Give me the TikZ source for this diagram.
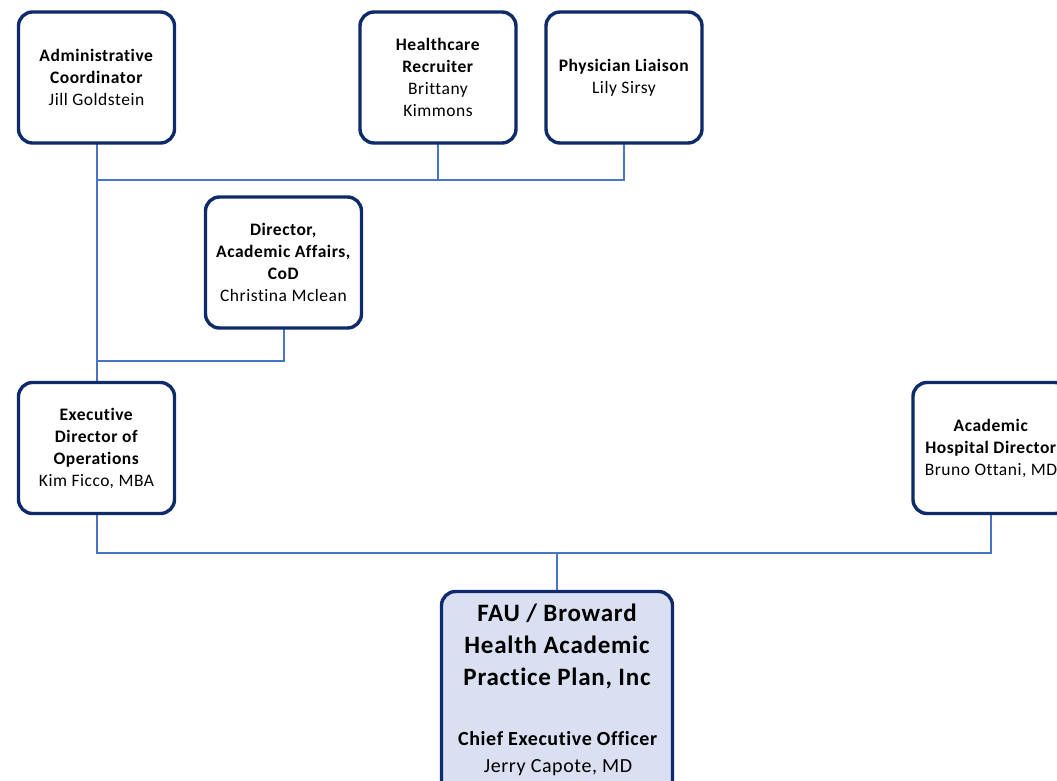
\documentclass[tikz,border=0pt]{standalone}
\usepackage{fontspec}
\setmainfont{Carlito}[Ligatures=NoCommon, LetterSpace=3]
\definecolor{boxline}{HTML}{0E2A6A}
\definecolor{conn}{HTML}{4A74C6}
\definecolor{ceofill}{HTML}{DAE0F2}
\pgfdeclarelayer{background}
\pgfsetlayers{background,main}
\tikzset{
  orgbox/.style={draw=boxline, line width=3.4pt, rounded corners=14pt, fill=white,
    minimum width=156pt, minimum height=131pt, inner sep=0pt, outer sep=0pt,
    align=center, font=\fontsize{17.5}{22}\selectfont},
  link/.style={draw=conn, line width=2pt},
  bigtxt/.style={align=center, inner sep=0pt, font=\fontsize{25}{32}\selectfont\bfseries},
  midtxt/.style={align=center, inner sep=0pt, font=\fontsize{20}{27}\selectfont},
}
\begin{document}
\begin{tikzpicture}[x=1pt,y=-1pt]
\useasboundingbox (0,0) rectangle (1057,781);
\clip (0,0) rectangle (1057,781);
\node[orgbox] (admin) at (96.5,77.5) {\textbf{Administrative}\\\textbf{Coordinator}\\Jill Goldstein};
\node[orgbox] (hr) at (438,77.5) {\textbf{Healthcare}\\\textbf{Recruiter}\\Brittany\\Kimmons};
\node[orgbox] (phys) at (624,77.5) {\textbf{Physician Liaison}\\Lily Sirsy};
\node[orgbox] (dir) at (283.5,262.5) {\textbf{Director,}\\\textbf{Academic Affairs,}\\\textbf{CoD}\\Christina Mclean};
\node[orgbox] (exec) at (96.5,448) {\textbf{Executive}\\\textbf{Director of}\\\textbf{Operations}\\Kim Ficco, MBA};
\node[orgbox] (acad) at (991,448) {\textbf{Academic}\\\textbf{Hospital Director}\\Bruno Ottani, MD};
\node[orgbox, fill=ceofill, minimum width=231pt, minimum height=215pt] (ceo) at (557,699) {};
\node[bigtxt] (ceoname) at (557,646) {FAU / Broward\\Health Academic\\Practice Plan, Inc};
\node[midtxt] (ceotitle) at (558,753.5) {\textbf{Chief Executive Officer}\\ Jerry Capote, MD};
\coordinate (bus1) at (0,180);
\coordinate (bus2) at (0,361);
\coordinate (bus3) at (0,553);
\begin{pgfonlayer}{background}
\draw[link] (admin.south) -- (exec.north);
\draw[link] (hr.south) -- (hr.south |- bus1);
\draw[link] (phys.south) -- (phys.south |- bus1) -- (admin.south |- bus1);
\draw[link] (dir.south) -- (dir.south |- bus2) -- (admin.south |- bus2);
\draw[link] (exec.south) -- (exec.south |- bus3) -- (acad.south |- bus3) -- (acad.south);
\draw[link] (ceo.north) -- (ceo.north |- bus3);
\end{pgfonlayer}
\end{tikzpicture}
\end{document}
